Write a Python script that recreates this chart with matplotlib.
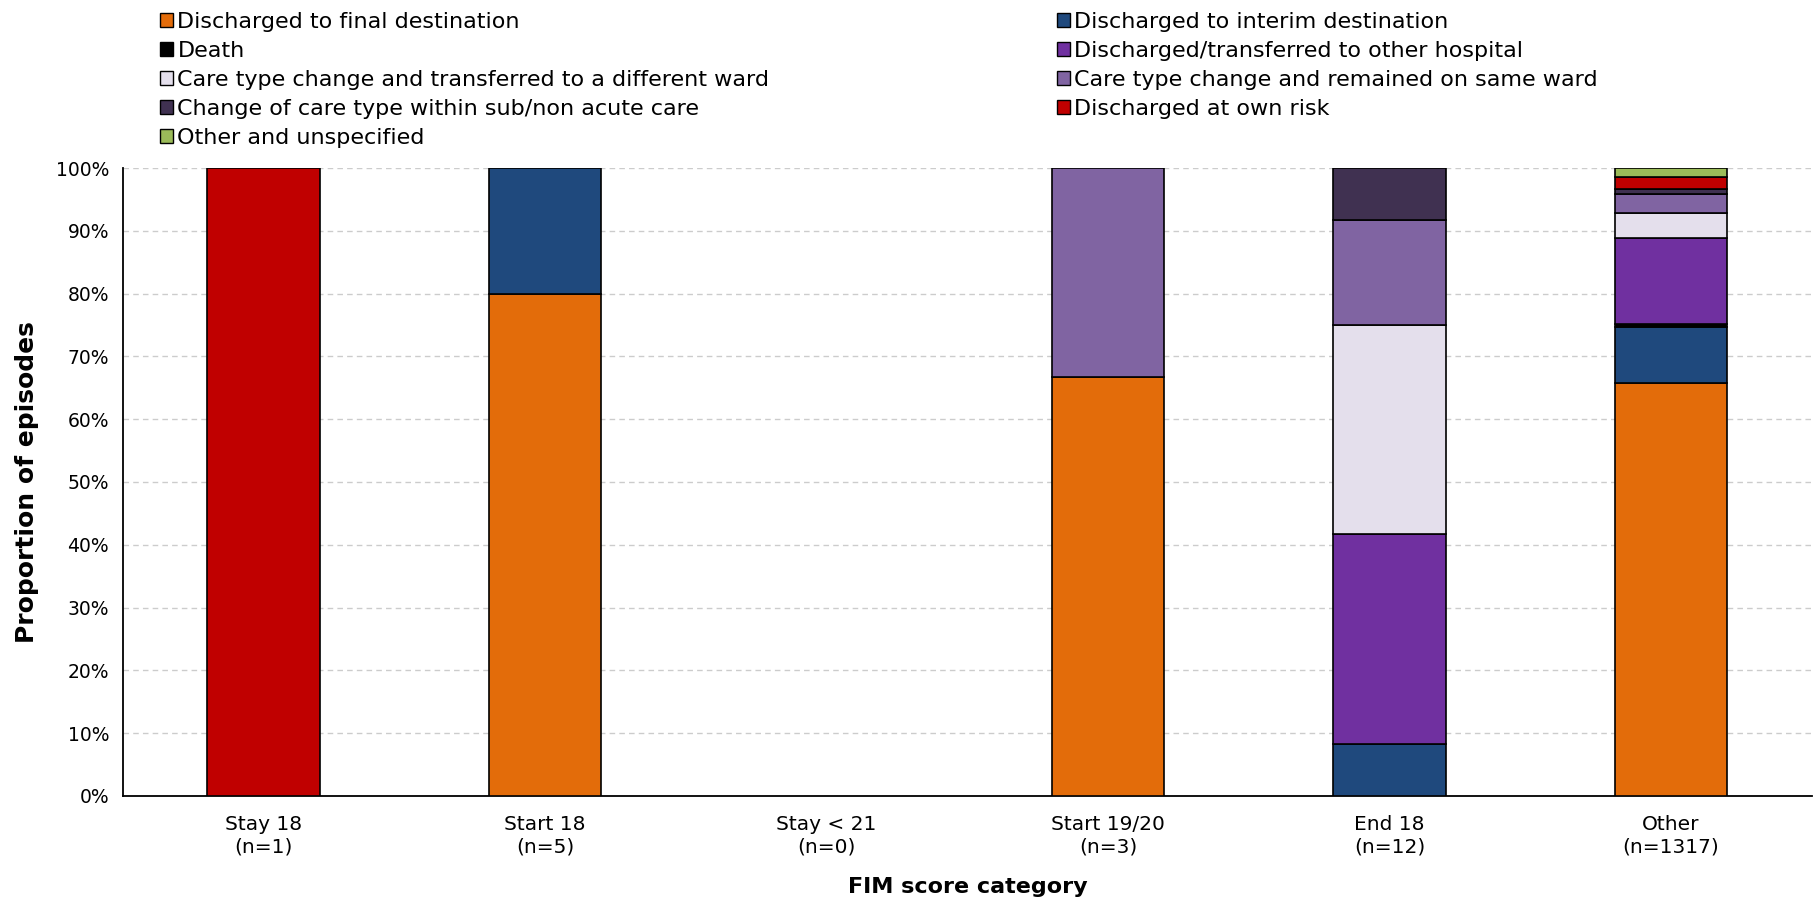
import matplotlib
matplotlib.use('Agg')
import matplotlib.pyplot as plt
import numpy as np
from matplotlib.patches import Patch

categories = ['Stay 18\n(n=1)', 'Start 18\n(n=5)', 'Stay < 21\n(n=0)',
              'Start 19/20\n(n=3)', 'End 18\n(n=12)', 'Other\n(n=1317)']

series_names = [
    'Discharged to final destination',
    'Discharged to interim destination',
    'Death',
    'Discharged/transferred to other hospital',
    'Care type change and transferred to a different ward',
    'Care type change and remained on same ward',
    'Change of care type within sub/non acute care',
    'Discharged at own risk',
    'Other and unspecified',
]

# proportions (%) per category, bottom to top of each stack
final_dest = [0, 80.0, 0, 66.7, 0, 65.8]
interim_dest = [0, 20.0, 0, 0, 8.33, 8.9]
death = [0, 0, 0, 0, 0, 0.4]
other_hospital = [0, 0, 0, 0, 33.33, 13.8]
diff_ward = [0, 0, 0, 0, 33.33, 4.0]
same_ward = [0, 0, 0, 33.3, 16.67, 3.0]
sub_non_acute = [0, 0, 0, 0, 8.34, 0.8]
own_risk = [100.0, 0, 0, 0, 0, 1.9]
other_unspec = [0, 0, 0, 0, 0, 1.4]

colors = ['#E36C0A', '#1F497D', '#000000', '#7030A0', '#E4DFEC',
          '#8064A2', '#403151', '#C00000', '#9BBB59']

series = [final_dest, interim_dest, death, other_hospital, diff_ward,
          same_ward, sub_non_acute, own_risk, other_unspec]

fig = plt.figure(figsize=(18.16, 9), dpi=100)
ax = fig.add_axes([0.0677, 0.1156, 0.930, 0.6977])

x = np.arange(len(categories))
bottom = np.zeros(len(categories))
for vals, col in zip(series, colors):
    vals = np.array(vals, dtype=float)
    mask = vals > 0
    ax.bar(x[mask], vals[mask], bottom=bottom[mask], width=0.4, color=col,
           edgecolor='black', linewidth=1.2, zorder=3)
    bottom += vals

ax.set_xlim(-0.5, 5.5)
ax.set_ylim(0, 100)
ax.set_yticks(np.arange(0, 101, 10))
ax.set_yticklabels([f'{v}%' for v in range(0, 101, 10)])
ax.set_xticks(x)
ax.set_xticklabels(categories)
ax.tick_params(axis='y', length=0, labelsize=13.5, pad=10)
ax.tick_params(axis='x', length=0, labelsize=14.5, pad=14)
ax.yaxis.grid(True, linestyle=(0, (4, 3)), color='#CCCCCC', linewidth=1, zorder=0)
for s in ['top', 'right']:
    ax.spines[s].set_visible(False)
for s in ['left', 'bottom']:
    ax.spines[s].set_linewidth(1.3)
ax.set_ylabel('Proportion of episodes', fontsize=18, fontweight='bold', labelpad=12)
ax.set_xlabel('FIM score category', fontsize=16, fontweight='bold', labelpad=15)

handles = [Patch(facecolor=c, edgecolor='black', linewidth=1) for c in colors]
left_idx = [0, 2, 4, 6, 8]
right_idx = [1, 3, 5, 7]
for idx, xpos in [(left_idx, 0.083), (right_idx, 0.577)]:
    fig.legend([handles[i] for i in idx], [series_names[i] for i in idx],
               loc='upper left', bbox_to_anchor=(xpos, 0.997), frameon=False,
               fontsize=16, handlelength=0.6, handleheight=0.6, handletextpad=0.2,
               labelspacing=0.41, borderaxespad=0)

fig.savefig('out.png', dpi=100)
